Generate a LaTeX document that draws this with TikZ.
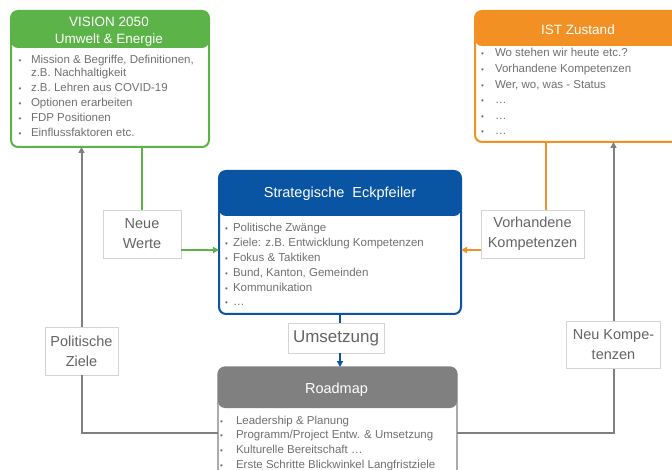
\documentclass[tikz,border=0pt]{standalone}
\usepackage{fontspec}
\setmainfont{Liberation Sans}
\usetikzlibrary{arrows.meta}
\definecolor{visgreen}{RGB}{92,180,72}
\definecolor{istorange}{RGB}{243,144,36}
\definecolor{stratblue}{RGB}{10,84,164}
\definecolor{mapgray}{RGB}{128,128,128}
\definecolor{boxline}{RGB}{212,212,212}
\definecolor{labtext}{RGB}{100,100,100}
\definecolor{itemtext}{RGB}{112,112,112}
\newcommand{\bul}{{\fontsize{8}{8}\selectfont\textbullet}}
\begin{document}
\begin{tikzpicture}[x=1pt, y=-1pt,
        frame/.style 2 args={draw=#1, fill=white, rounded corners=7pt, line width=2pt, inner sep=0pt, outer sep=0pt,
            path picture={\fill[#1] (path picture bounding box.north west) rectangle ([yshift=-#2]path picture bounding box.north east);}},
        head/.style={text=white, font=\fontsize{13.5}{17}\selectfont, align=center, inner sep=0pt},
        items/.style={text=itemtext, anchor=base west, inner sep=0pt},
        lab/.style={draw=boxline, fill=white, text=labtext, font=\fontsize{14.5}{20}\selectfont, align=center, inner sep=0pt},
        con/.style={line width=2pt, -{Triangle[length=6pt,width=6pt]}}]
            \clip (0,0) rectangle (672,470);
            \node[frame={visgreen}{37pt}, minimum width=198pt, minimum height=136pt] (vis) at (110,79) {};
            \node[frame={istorange}{35pt}, minimum width=225pt, minimum height=131pt] (ist) at (587.5,76.5) {};
            \node[frame={stratblue}{45pt}, minimum width=242pt, minimum height=143pt] (strat) at (340,242.5) {};
            \node[frame={mapgray}{41pt}, line width=1.2pt, minimum width=239pt, minimum height=123pt] (rm) at (337.5,428.5) {};
            \node[head] (vish) at (109,32) {VISION 2050\\Umwelt \& Energie};
            \node[head] (isth) at (578,30) {IST Zustand};
            \node[head, font=\fontsize{14.5}{17}\selectfont] (strath) at (340,194) {Strategische \ Eckpfeiler};
            \node[head, font=\fontsize{14.5}{17}\selectfont] (rmh) at (336.5,389.5) {Roadmap};
            \node[items, font=\fontsize{11.5}{15}\selectfont] (visb) at (18.5,64) {\begin{tabular}[t]{@{}l@{\hspace{9.5pt}}l@{}}
                \bul & Mission \& Begriffe, Definitionen,\\[-2.5pt]
                     & z.B. Nachhaltigkeit\\
                \bul & z.B. Lehren aus COVID-19\\
                \bul & Optionen erarbeiten\\
                \bul & FDP Positionen\\
                \bul & Einflussfaktoren etc.
            \end{tabular}};
            \node[items, font=\fontsize{11.5}{15.6}\selectfont] (istb) at (481,57) {\begin{tabular}[t]{@{}l@{\hspace{11pt}}l@{}}
                \bul & Wo stehen wir heute etc.?\\
                \bul & Vorhandene Kompetenzen\\
                \bul & Wer, wo, was - Status\\
                \bul & …\\
                \bul & …\\
                \bul & …
            \end{tabular}};
            \node[items, font=\fontsize{11.5}{14.8}\selectfont] (stratb) at (225,232) {\begin{tabular}[t]{@{}l@{\hspace{5pt}}l@{}}
                \bul & Politische Zwänge\\
                \bul & Ziele: z.B. Entwicklung Kompetenzen\\
                \bul & Fokus \& Taktiken\\
                \bul & Bund, Kanton, Gemeinden\\
                \bul & Kommunikation\\
                \bul & …
            \end{tabular}};
            \node[items, font=\fontsize{11.5}{14.7}\selectfont] (rmb) at (220,424) {\begin{tabular}[t]{@{}l@{\hspace{13pt}}l@{}}
                \bul & Leadership \& Planung\\
                \bul & Programm/Project Entw. \& Umsetzung\\
                \bul & Kulturelle Bereitschaft …\\
                \bul & Erste Schritte Blickwinkel Langfristziele
            \end{tabular}};
            \node[lab, minimum width=78pt, minimum height=48pt] (nw) at (142,234) {Neue\\Werte};
            \node[lab, minimum width=73pt, minimum height=48pt] (pz) at (81.5,351) {Politische\\Ziele};
            \node[lab, minimum width=103pt, minimum height=48pt] (vk) at (532.5,234) {Vorhandene\\Kompetenzen};
            \node[lab, minimum width=94pt, minimum height=47pt] (nk) at (613.5,345) {Neu Kompe-\\tenzen};
            \node[lab, minimum width=96pt, minimum height=30pt, font=\fontsize{17}{20}\selectfont] (um) at (336,338) {Umsetzung};
            \coordinate (gin) at ([yshift=-16pt]nw.east);
            \coordinate (oin) at ([yshift=-16pt]vk.west);
            \coordinate (otop) at ([xshift=13pt]vk.north);
            \coordinate (lin) at ([yshift=-4.5pt]rm.west);
            \coordinate (rin) at ([yshift=-4.5pt]rm.east);
            \draw[visgreen, line width=2pt] (nw.north) -- (nw.north |- vis.south);
            \draw[con, visgreen] (gin) -- (gin -| strat.west);
            \draw[istorange, line width=2pt] (otop) -- (otop |- ist.south);
            \draw[con, istorange] (oin) -- (oin -| strat.east);
            \draw[stratblue, line width=2pt] (strat.south) -- (strat.south |- um.north);
            \draw[con, stratblue] (strat.south |- um.south) -- (strat.south |- rm.north);
            \draw[mapgray, line width=2pt] (lin) -| (pz.south);
            \draw[con, mapgray] (pz.north) -- (pz.north |- vis.south);
            \draw[mapgray, line width=2pt] (rin) -| (nk.south);
            \draw[con, mapgray] (nk.north) -- (nk.north |- ist.south);
        \end{tikzpicture}
\end{document}
